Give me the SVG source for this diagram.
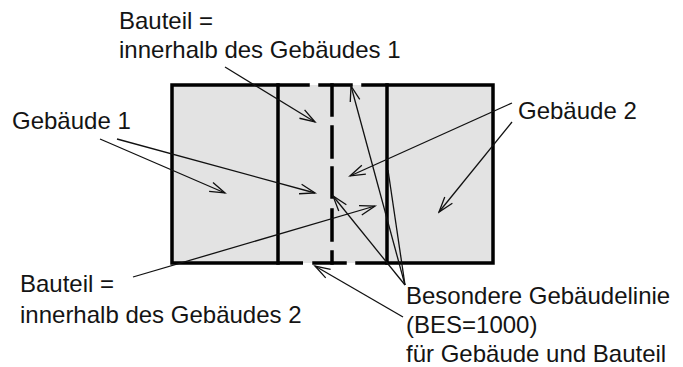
<svg xmlns="http://www.w3.org/2000/svg" width="683" height="367" viewBox="0 0 683 367">
  <defs>
    <style>
      .lbl { font-family: "Liberation Sans", Arial, sans-serif; font-size: 24px; fill: #141414; }
      .wall { stroke: #000; stroke-width: 3.5; fill: none; stroke-linecap: square; }
      .conn { stroke: #111; stroke-width: 1.3; fill: none; }
    </style>
    <marker id="arr" viewBox="-17 -7 19 14" refX="0" refY="0" markerWidth="19" markerHeight="14" markerUnits="userSpaceOnUse" orient="auto">
      <path d="M -15.2,-4.9 L 0,0 L -15.2,4.9" fill="none" stroke="#111" stroke-width="1.3"/>
    </marker>
  </defs>

  <g id="buildings">
    <rect x="172" y="85" width="321" height="178" fill="#e3e3e3"/>
    <path class="wall" d="M 172,85 L 308,85 M 320,85 L 351,85 M 363,85 L 493,85 L 493,263 L 357,263 M 345,263 L 314,263 M 303,263 L 172,263 Z M 172,85 L 172,263"/>
    <path class="wall" d="M 278,85 L 278,263 M 387,85 L 387,263"/>
    <path class="wall" stroke-linecap="butt" d="M 332,85 L 332,115 M 332,127 L 332,157 M 332,168 L 332,197 M 332,210 L 332,240 M 332,252 L 332,263"/>
  </g>

  <g id="label-bauteil-1">
    <text class="lbl" x="119" y="29">Bauteil =</text>
    <text class="lbl" x="119" y="58">innerhalb des Gebäudes 1</text>
  </g>
  <g id="label-gebaeude-1">
    <text class="lbl" x="12" y="129">Gebäude 1</text>
  </g>
  <g id="label-gebaeude-2">
    <text class="lbl" x="518" y="119">Gebäude 2</text>
  </g>
  <g id="label-bauteil-2">
    <text class="lbl" x="20" y="292">Bauteil =</text>
    <text class="lbl" x="20" y="323">innerhalb des Gebäudes 2</text>
  </g>
  <g id="label-bes">
    <text class="lbl" x="406" y="304">Besondere Gebäudelinie</text>
    <text class="lbl" x="406" y="333">(BES=1000)</text>
    <text class="lbl" x="406" y="362">für Gebäude und Bauteil</text>
  </g>

  <g id="connectors">
    <line class="conn" x1="225" y1="67" x2="315" y2="122" marker-end="url(#arr)"/>
    <line class="conn" x1="100" y1="139" x2="225" y2="193" marker-end="url(#arr)"/>
    <line class="conn" x1="117" y1="139" x2="315" y2="193" marker-end="url(#arr)"/>
    <line class="conn" x1="512" y1="103" x2="350" y2="176" marker-end="url(#arr)"/>
    <line class="conn" x1="512" y1="122" x2="439" y2="212" marker-end="url(#arr)"/>
    <line class="conn" x1="133" y1="277" x2="375" y2="206" marker-end="url(#arr)"/>
    <line class="conn" x1="405" y1="285" x2="351" y2="86" marker-end="url(#arr)"/>
    <line class="conn" x1="405" y1="285" x2="333" y2="196" marker-end="url(#arr)"/>
    <line class="conn" x1="405" y1="285" x2="388" y2="170"/>
    <line class="conn" x1="403" y1="317" x2="315" y2="266" marker-end="url(#arr)"/>
  </g>
</svg>
